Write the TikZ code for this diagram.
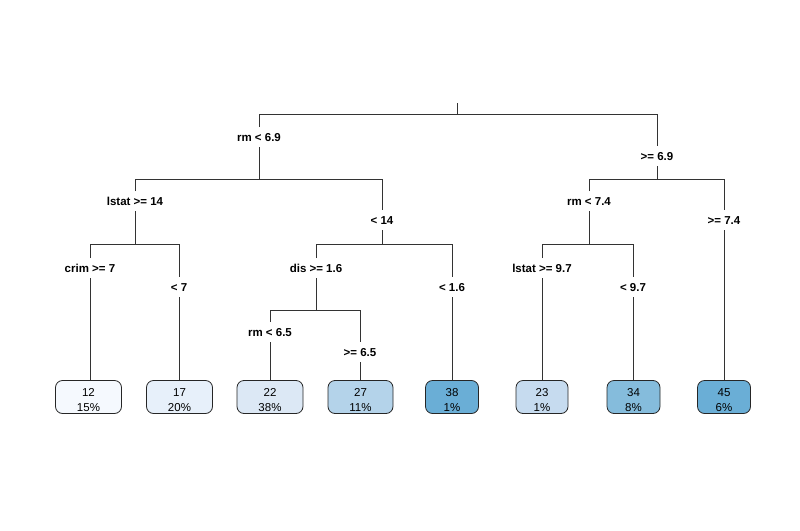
\documentclass[tikz,border=0pt]{standalone}
\usepackage{fontspec}
\setmainfont{Liberation Sans}
\newcommand{\lfstrut}{\rule{0pt}{13.5pt}}
\begin{document}
\begin{tikzpicture}[x=1pt,y=-1pt,
  edge/.style={draw=black!80, line width=0.9pt},
  lbl/.style={font=\fontsize{11.5}{13}\selectfont\bfseries, inner sep=0pt, outer sep=0pt, minimum height=20pt, text height=8.5pt, text depth=0pt},
  leaf/.style={draw=black!85, line width=0.8pt, rounded corners=7pt, minimum height=33pt, align=center, inner sep=0pt,
    font=\fontsize{11.5}{15}\selectfont},
]
\useasboundingbox (0,0) rectangle (800,530);
\definecolor{c12}{HTML}{F5F9FE}
\definecolor{c17}{HTML}{E7F0FA}
\definecolor{c22}{HTML}{DCE8F5}
\definecolor{c27}{HTML}{B4D3EA}
\definecolor{c38}{HTML}{6AAED6}
\definecolor{c23}{HTML}{C6DBEF}
\definecolor{c34}{HTML}{85BCDC}
\definecolor{c45}{HTML}{6AAED6}

% split bars
\coordinate (top) at (457,103);
\coordinate (r) at (457,114);
\coordinate (rL) at (259,114);
\coordinate (rR) at (657,114);
\coordinate (a) at (259,179);
\coordinate (aL) at (135,179);
\coordinate (aR) at (382,179);
\coordinate (b) at (657,179);
\coordinate (bL) at (589,179);
\coordinate (bR) at (724,179);
\coordinate (c) at (135,244);
\coordinate (cL) at (90,244);
\coordinate (cR) at (179,244);
\coordinate (d) at (382,244);
\coordinate (dL) at (316,244);
\coordinate (dR) at (452,244);
\coordinate (e) at (589,244);
\coordinate (eL) at (542,244);
\coordinate (eR) at (633,244);
\coordinate (f) at (316,310);
\coordinate (fL) at (270,310);
\coordinate (fR) at (360,310);

% labels
\node[lbl] (l1) at (259,137) {rm < 6.9};
\node[lbl] (l2) at (657,156) {>= 6.9};
\node[lbl] (l3) at (135,201) {lstat >= 14};
\node[lbl] (l4) at (382,220) {< 14};
\node[lbl] (l5) at (589,201) {rm < 7.4};
\node[lbl] (l6) at (724,220) {>= 7.4};
\node[lbl] (l7) at (90,268) {crim >= 7};
\node[lbl] (l8) at (179,287) {< 7};
\node[lbl] (l9) at (316,268) {dis >= 1.6};
\node[lbl] (l10) at (452,287) {< 1.6};
\node[lbl] (l11) at (542,268) {lstat >= 9.7};
\node[lbl] (l12) at (633,287) {< 9.7};
\node[lbl] (l13) at (270,332) {rm < 6.5};
\node[lbl] (l14) at (360,352) {>= 6.5};

% leaves
\node[leaf, fill=c12, minimum width=66pt] (v12) at (88.5,397) {\lfstrut 12\\15\%};
\node[leaf, fill=c17, minimum width=66pt] (v17) at (179.5,397) {\lfstrut 17\\20\%};
\node[leaf, fill=c22, minimum width=66pt] (v22) at (270,397) {\lfstrut 22\\38\%};
\node[leaf, fill=c27, minimum width=65pt] (v27) at (360.5,397) {\lfstrut 27\\11\%};
\node[leaf, fill=c38, minimum width=53pt] (v38) at (452,397) {\lfstrut 38\\1\%};
\node[leaf, fill=c23, minimum width=52pt] (v23) at (542,397) {\lfstrut 23\\1\%};
\node[leaf, fill=c34, minimum width=53pt] (v34) at (633.5,397) {\lfstrut 34\\8\%};
\node[leaf, fill=c45, minimum width=53pt] (v45) at (724,397) {\lfstrut 45\\6\%};

% connectors
\draw[edge] (top) -- (r);
\draw[edge] (l1.north) -- (rL) -- (rR) -- (l2.north);
\draw[edge] (l1.south) -- (a);
\draw[edge] (l2.south) -- (b);
\draw[edge] (l3.north) -- (aL) -- (aR) -- (l4.north);
\draw[edge] (l5.north) -- (bL) -- (bR) -- (l6.north);
\draw[edge] (l3.south) -- (c);
\draw[edge] (l4.south) -- (d);
\draw[edge] (l5.south) -- (e);
\draw[edge] (l6.south) -- (v45.north);
\draw[edge] (l7.north) -- (cL) -- (cR) -- (l8.north);
\draw[edge] (l9.north) -- (dL) -- (dR) -- (l10.north);
\draw[edge] (l11.north) -- (eL) -- (eR) -- (l12.north);
\draw[edge] (l7.south) -- (v12.north -| l7.south);
\draw[edge] (l8.south) -- (v17.north -| l8.south);
\draw[edge] (l9.south) -- (f);
\draw[edge] (l10.south) -- (v38.north);
\draw[edge] (l11.south) -- (v23.north);
\draw[edge] (l12.south) -- (v34.north -| l12.south);
\draw[edge] (l13.north) -- (fL) -- (fR) -- (l14.north);
\draw[edge] (l13.south) -- (v22.north);
\draw[edge] (l14.south) -- (v27.north -| l14.south);
\end{tikzpicture}
\end{document}
